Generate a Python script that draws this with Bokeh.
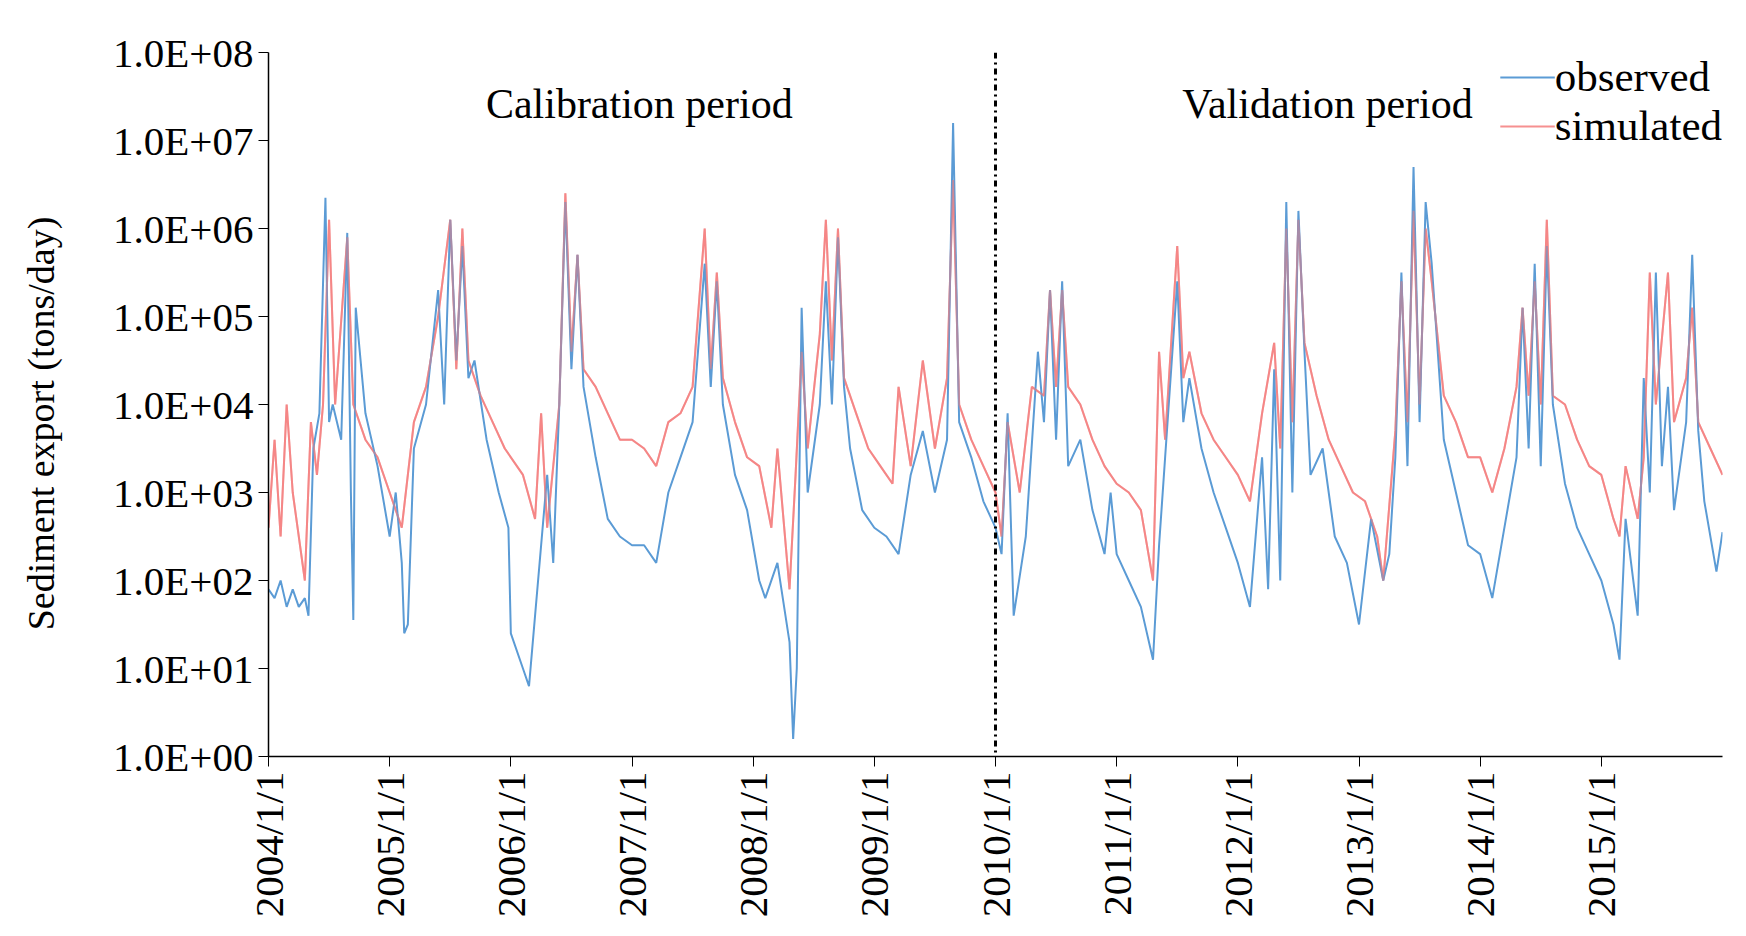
import math
from bokeh.plotting import figure
from bokeh.models import FixedTicker, Span, Legend, LegendItem, Label
from bokeh.embed import file_html
from bokeh.resources import INLINE

years = list(range(2004, 2016))
year_labels = [f"{y}/1/1" for y in years]
ytick_vals = [1, 10, 100, 1e3, 1e4, 1e5, 1e6, 1e7, 1e8]
ytick_labels = ["1.0E+00", "1.0E+01", "1.0E+02", "1.0E+03", "1.0E+04", "1.0E+05", "1.0E+06", "1.0E+07", "1.0E+08"]

obs_t = [2004.0,2004.05,2004.1,2004.15,2004.2,2004.25,2004.3,2004.33,2004.37,2004.42,2004.47,2004.5,2004.53,2004.6,2004.65,2004.68,2004.7,2004.72,2004.8,2004.9,2005.0,
 2005.05,2005.1,2005.12,2005.15,2005.2,2005.3,2005.4,2005.45,2005.5,2005.55,2005.6,2005.65,2005.7,2005.8,2005.9,2005.98,
 2006.0,2006.1,2006.15,2006.2,2006.3,2006.35,2006.4,2006.45,2006.5,2006.55,2006.6,2006.7,2006.8,2006.9,2007.0,
 2007.1,2007.2,2007.3,2007.4,2007.5,2007.6,2007.65,2007.7,2007.75,2007.85,2007.95,2008.05,2008.1,2008.2,2008.3,2008.33,2008.36,2008.4,2008.45,2008.55,2008.6,2008.65,2008.7,2008.75,2008.8,2008.9,2009.0,
 2009.1,2009.2,2009.3,2009.4,2009.5,2009.6,2009.65,2009.7,2009.8,2009.9,2010.0,
 2010.05,2010.1,2010.15,2010.25,2010.35,2010.4,2010.45,2010.5,2010.55,2010.6,2010.7,2010.8,2010.9,2010.95,2011.0,
 2011.1,2011.2,2011.3,2011.35,2011.4,2011.5,2011.55,2011.6,2011.7,2011.8,2011.9,2012.0,
 2012.1,2012.2,2012.25,2012.3,2012.35,2012.4,2012.45,2012.5,2012.55,2012.6,2012.7,2012.8,2012.9,2013.0,
 2013.1,2013.2,2013.25,2013.3,2013.35,2013.4,2013.45,2013.5,2013.55,2013.6,2013.7,2013.8,2013.9,2014.0,
 2014.1,2014.2,2014.3,2014.35,2014.4,2014.45,2014.5,2014.55,2014.6,2014.7,2014.8,2014.9,2015.0,
 2015.1,2015.15,2015.2,2015.3,2015.35,2015.4,2015.45,2015.5,2015.55,2015.6,2015.7,2015.75,2015.8,2015.85,2015.95,2016.0]
obs_log = [1.9,1.8,2.0,1.7,1.9,1.7,1.8,1.6,3.5,3.9,6.35,3.8,4.0,3.6,5.95,3.0,1.55,5.1,3.9,3.3,2.5,
 3.0,2.2,1.4,1.5,3.5,4.0,5.3,4.0,6.1,4.5,5.8,4.3,4.5,3.6,3.0,2.6,
 1.4,1.0,0.8,1.6,3.2,2.2,4.0,6.3,4.4,5.7,4.2,3.4,2.7,2.5,2.4,
 2.4,2.2,3.0,3.4,3.8,5.6,4.2,5.4,4.0,3.2,2.8,2.0,1.8,2.2,1.3,0.2,1.0,5.1,3.0,4.0,5.4,4.0,5.9,4.2,3.5,2.8,2.6,
 2.5,2.3,3.2,3.7,3.0,3.6,7.2,3.8,3.4,2.9,2.6,
 2.3,3.9,1.6,2.5,4.6,3.8,5.3,3.6,5.4,3.3,3.6,2.8,2.3,3.0,2.3,
 2.0,1.7,1.1,2.4,3.4,5.4,3.8,4.3,3.5,3.0,2.6,2.2,
 1.7,3.4,1.9,4.4,2.0,6.3,3.0,6.2,4.6,3.2,3.5,2.5,2.2,1.5,
 2.7,2.0,2.3,3.4,5.5,3.3,6.7,3.8,6.3,5.6,3.6,3.0,2.4,2.3,
 1.8,2.6,3.4,5.1,3.5,5.6,3.3,5.8,4.0,3.1,2.6,2.3,2.0,
 1.5,1.1,2.7,1.6,4.3,3.0,5.5,3.3,4.2,2.8,3.8,5.7,3.7,2.9,2.1,2.55]

sim_t = [2004.0,2004.05,2004.1,2004.15,2004.2,2004.3,2004.35,2004.4,2004.45,2004.5,2004.55,2004.65,2004.7,2004.8,2004.9,2005.0,
 2005.1,2005.2,2005.3,2005.4,2005.5,2005.55,2005.6,2005.65,2005.75,2005.85,2005.95,
 2006.1,2006.2,2006.25,2006.3,2006.4,2006.45,2006.5,2006.55,2006.6,2006.7,2006.8,2006.9,2007.0,
 2007.1,2007.2,2007.3,2007.4,2007.5,2007.6,2007.65,2007.7,2007.75,2007.85,2007.95,
 2008.05,2008.15,2008.2,2008.3,2008.35,2008.4,2008.45,2008.55,2008.6,2008.65,2008.7,2008.75,2008.85,2008.95,
 2009.05,2009.15,2009.2,2009.3,2009.4,2009.5,2009.6,2009.65,2009.7,2009.8,2009.9,2010.0,
 2010.05,2010.1,2010.2,2010.3,2010.4,2010.45,2010.5,2010.55,2010.6,2010.7,2010.8,2010.9,2011.0,
 2011.1,2011.2,2011.3,2011.35,2011.4,2011.5,2011.55,2011.6,2011.7,2011.8,2011.9,2012.0,
 2012.1,2012.2,2012.3,2012.35,2012.4,2012.45,2012.5,2012.55,2012.65,2012.75,2012.85,2012.95,
 2013.05,2013.15,2013.2,2013.3,2013.35,2013.4,2013.45,2013.5,2013.55,2013.6,2013.7,2013.8,2013.9,2014.0,
 2014.1,2014.2,2014.3,2014.35,2014.4,2014.45,2014.5,2014.55,2014.6,2014.7,2014.8,2014.9,2015.0,
 2015.1,2015.15,2015.2,2015.3,2015.35,2015.4,2015.45,2015.55,2015.6,2015.7,2015.75,2015.8,2015.9,2016.0]
sim_log = [2.6,3.6,2.5,4.0,3.0,2.0,3.8,3.2,4.0,6.1,4.0,5.9,4.0,3.6,3.4,3.0,
 2.6,3.8,4.2,5.0,6.1,4.4,6.0,4.5,4.1,3.8,3.5,
 3.2,2.7,3.9,2.6,4.0,6.4,4.6,5.7,4.4,4.2,3.9,3.6,3.6,
 3.5,3.3,3.8,3.9,4.2,6.0,4.4,5.5,4.3,3.8,3.4,
 3.3,2.6,3.5,1.9,3.2,4.6,3.5,4.8,6.1,4.5,6.0,4.3,3.9,3.5,
 3.3,3.1,4.2,3.3,4.5,3.5,4.3,6.55,4.0,3.6,3.3,3.0,
 2.5,3.8,3.0,4.2,4.1,5.3,4.2,5.3,4.2,4.0,3.6,3.3,3.1,
 3.0,2.8,2.0,4.6,3.6,5.8,4.3,4.6,3.9,3.6,3.4,3.2,
 2.9,3.9,4.7,3.5,6.0,3.8,6.1,4.7,4.1,3.6,3.3,3.0,
 2.9,2.5,2.0,3.7,5.4,3.8,6.2,4.0,6.0,5.4,4.1,3.8,3.4,3.4,
 3.0,3.5,4.2,5.1,4.1,5.4,4.0,6.1,4.1,4.0,3.6,3.3,3.2,
 2.7,2.5,3.3,2.7,3.4,5.5,4.0,5.5,3.8,4.3,5.1,3.8,3.5,3.2]

obs_v = [10 ** v for v in obs_log]
sim_v = [10 ** v for v in sim_log]

FONT = "Liberation Serif"
p = figure(width=1730, height=920, y_axis_type="log", x_range=(2004, 2016), y_range=(1, 1e8),
           output_backend="svg", toolbar_location=None, min_border_left=268, min_border_right=8,
           min_border_top=52, min_border_bottom=10)
p.outline_line_color = None
p.grid.visible = False

r_sim = p.line(sim_t, sim_v, line_color="#f47c7c", line_width=2, line_alpha=0.85)
r_obs = p.line(obs_t, obs_v, line_color="#5b9bd5", line_width=2)
r_sim2 = p.line(sim_t, sim_v, line_color="#f47c7c", line_width=2, line_alpha=0.5)

p.add_layout(Span(location=2010.0, dimension="height", line_color="black", line_width=3, line_dash="dashdot"))

p.xaxis.ticker = FixedTicker(ticks=years)
p.xaxis.major_label_overrides = {y: l for y, l in zip(years, year_labels)}
p.xaxis.major_label_orientation = math.pi / 2
p.yaxis.ticker = FixedTicker(ticks=ytick_vals)
p.yaxis.major_label_overrides = {v: l for v, l in zip(ytick_vals, ytick_labels)}
for ax in (p.xaxis, p.yaxis):
    ax.major_label_text_font = FONT
    ax.major_label_text_font_size = "41px"
    ax.major_label_text_color = "black"
    ax.axis_line_color = "black"
    ax.axis_line_width = 1.5
    ax.major_tick_line_color = "black"
    ax.major_tick_in = 0
    ax.major_tick_out = 10
    ax.minor_tick_line_color = None
p.yaxis.axis_label = "Sediment  export    (tons/day)"
p.yaxis.axis_label_text_font = FONT
p.yaxis.axis_label_text_font_size = "38px"
p.yaxis.axis_label_text_font_style = "normal"
p.yaxis.axis_label_text_color = "black"
p.yaxis.axis_label_standoff = 48

p.add_layout(Label(x=2007.06, y=10 ** 7.15, text="Calibration period", text_align="center",
                   text_font=FONT, text_font_size="42px", text_color="black"))
p.add_layout(Label(x=2012.74, y=10 ** 7.15, text="Validation period", text_align="center",
                   text_font=FONT, text_font_size="42px", text_color="black"))

legend = Legend(items=[LegendItem(label="observed", renderers=[r_obs]),
                       LegendItem(label="simulated", renderers=[r_sim])],
                location="top_right", border_line_color=None, background_fill_alpha=0,
                label_text_font=FONT, label_text_font_size="43px", label_text_color="black",
                glyph_width=55, spacing=-8, padding=0, margin=0, label_standoff=0)
p.add_layout(legend)

open("out.html", "w").write(file_html(p, INLINE))
